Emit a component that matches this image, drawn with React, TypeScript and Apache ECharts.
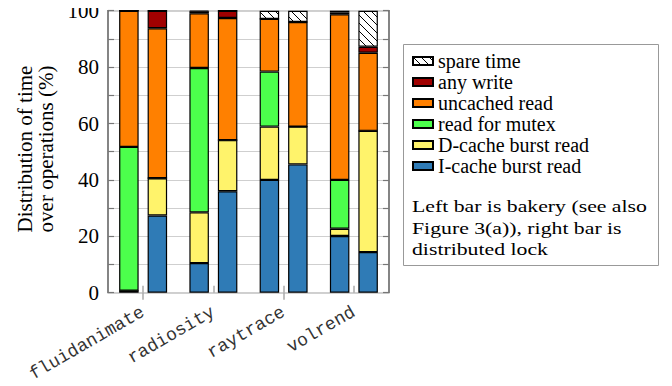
import React, { useEffect, useRef } from "react";
import * as echarts from "echarts";

const categories = ["fluidanimate", "radiosity", "raytrace", "volrend"];
const legendNames = ["spare time", "any write", "uncached read", "read for mutex", "D-cache burst read", "I-cache burst read"];
const yTicks = [0, 20, 40, 60, 80, 100];

// left bar: bakery
const icacheBakery = [0.7, 10.5, 40.0, 20.1];
const dcacheBakery = [0, 18.0, 18.9, 2.6];
const mutexBakery = [51.0, 51.2, 19.5, 17.3];
const uncachedBakery = [48.3, 19.4, 18.7, 58.7];
const writeBakery = [0, 0.7, 0, 0.7];
const spareBakery = [0, 0.2, 2.9, 0.6];

// right bar: distributed lock
const icacheDist = [27.4, 36.0, 45.5, 14.4];
const dcacheDist = [13.2, 18.1, 13.4, 43.0];
const mutexDist = [0, 0, 0, 0];
const uncachedDist = [53.2, 43.3, 37.1, 27.7];
const writeDist = [6.2, 2.6, 0, 2.1];
const spareDist = [0, 0, 4.0, 12.8];

const colors: Record<string, string> = {
  "I-cache burst read": "#2f7bb6",
  "D-cache burst read": "#fff36b",
  "read for mutex": "#4cff4c",
  "uncached read": "#ff8000",
  "any write": "#a00000",
};

const serif = "'Liberation Serif', 'Times New Roman', serif";
const mono = "'Liberation Mono', 'Courier New', monospace";

function makeHatch(): HTMLCanvasElement {
  const s = 8;
  const c = document.createElement("canvas");
  c.width = s;
  c.height = s;
  const ctx = c.getContext("2d")!;
  ctx.fillStyle = "#fff";
  ctx.fillRect(0, 0, s, s);
  ctx.strokeStyle = "#000";
  ctx.lineWidth = 1;
  ctx.beginPath();
  ctx.moveTo(-1, -1);
  ctx.lineTo(s + 1, s + 1);
  ctx.moveTo(-1, s - 1);
  ctx.lineTo(1, s + 1);
  ctx.moveTo(s - 1, -1);
  ctx.lineTo(s + 1, 1);
  ctx.stroke();
  return c;
}

export default function App() {
  const ref = useRef<HTMLDivElement>(null);
  useEffect(() => {
    if (!ref.current) return;
    const chart = echarts.init(ref.current, null, { renderer: "svg" });
    const hatch = makeHatch();
    const mk = (name: string, stack: string, data: number[]) => {
      const itemStyle: any = {
        color: name === "spare time" ? { image: hatch, repeat: "repeat" } : colors[name],
        borderColor: "#000",
        borderWidth: 1.2,
      };
      return {
        type: "bar",
        name,
        stack,
        data,
        barWidth: 19.5,
        barGap: "46%",
        xAxisIndex: 0,
        yAxisIndex: 0,
        itemStyle,
        emphasis: { disabled: true },
      };
    };
    const series = [
      mk("I-cache burst read", "bakery", icacheBakery),
      mk("D-cache burst read", "bakery", dcacheBakery),
      mk("read for mutex", "bakery", mutexBakery),
      mk("uncached read", "bakery", uncachedBakery),
      mk("any write", "bakery", writeBakery),
      mk("spare time", "bakery", spareBakery),
      mk("I-cache burst read", "dist", icacheDist),
      mk("D-cache burst read", "dist", dcacheDist),
      mk("read for mutex", "dist", mutexDist),
      mk("uncached read", "dist", uncachedDist),
      mk("any write", "dist", writeDist),
      mk("spare time", "dist", spareDist),
    ];
    chart.setOption({
      animation: false,
      grid: {
        left: 108,
        top: 10.7,
        right: 283,
        bottom: 93.3,
        show: true,
        borderColor: "#444",
        borderWidth: 1.3,
        backgroundColor: "transparent",
      },
      xAxis: [
        {
          type: "category",
          data: categories,
          position: "bottom",
          axisLine: { show: false },
          axisTick: { show: true, inside: true, alignWithLabel: true, length: 7, lineStyle: { color: "#aaa", width: 1.5 } },
          axisLabel: {
            rotate: 30,
            fontFamily: mono,
            fontSize: 18,
            color: "#333",
            margin: 18,
          },
          splitLine: { show: false },
        },
        {
          type: "category",
          data: categories,
          position: "top",
          axisLine: { show: false },
          axisTick: { show: true, inside: true, alignWithLabel: true, length: 7, lineStyle: { color: "#aaa", width: 1.5 } },
          axisLabel: { show: false },
          splitLine: { show: false },
        },
      ],
      yAxis: [
        {
          type: "value",
          min: 0,
          max: 100,
          interval: 10,
          axisLine: { show: false },
          axisTick: { show: true, inside: true, length: 6, lineStyle: { color: "#777", width: 1.2 } },
          axisLabel: {
            formatter: (v: number) => (yTicks.includes(v) ? String(v) : ""),
            fontFamily: serif,
            fontSize: 21,
            color: "#000",
            margin: 9,
          },
          splitLine: { show: true, lineStyle: { color: "#cfcfcf", width: 1.2 } },
        },
        {
          type: "value",
          min: 0,
          max: 100,
          interval: 10,
          position: "right",
          axisLine: { show: false },
          axisTick: { show: true, inside: true, length: 6, lineStyle: { color: "#777", width: 1.2 } },
          axisLabel: { show: false },
          splitLine: { show: false },
        },
      ],
      legend: {
        data: legendNames,
        orient: "vertical",
        left: 412,
        top: 50.5,
        itemWidth: 20,
        itemHeight: 8,
        itemGap: 0,
        icon: "rect",
        selectedMode: false,
        textStyle: { fontFamily: serif, fontSize: 20, color: "#000", lineHeight: 21 },
        padding: 0,
      },
      graphic: [
        {
          type: "rect",
          shape: { x: 403.5, y: 44.5, width: 255, height: 221 },
          style: { fill: "none", stroke: "#999", lineWidth: 1 },
          silent: true,
        },
        {
          type: "text",
          x: 412,
          y: 196,
          scaleX: 1.28,
          style: {
            text: "Left bar is bakery (see also\nFigure 3(a)), right bar is\ndistributed lock",
            fontFamily: serif,
            fontSize: 17,
            lineHeight: 21.5,
            fill: "#000",
            align: "left",
            verticalAlign: "top",
          },
          silent: true,
        },
        {
          type: "text",
          x: 35,
          y: 149,
          rotation: Math.PI / 2,
          style: {
            text: "Distribution of time\nover operations (%)",
            fontFamily: serif,
            fontSize: 21,
            lineHeight: 21,
            fill: "#000",
            align: "center",
            verticalAlign: "middle",
          },
          silent: true,
        },
      ],
      series,
    });
    return () => chart.dispose();
  }, []);
  return <div ref={ref} style={{ width: 672, height: 386, margin: -8 }} />;
}
